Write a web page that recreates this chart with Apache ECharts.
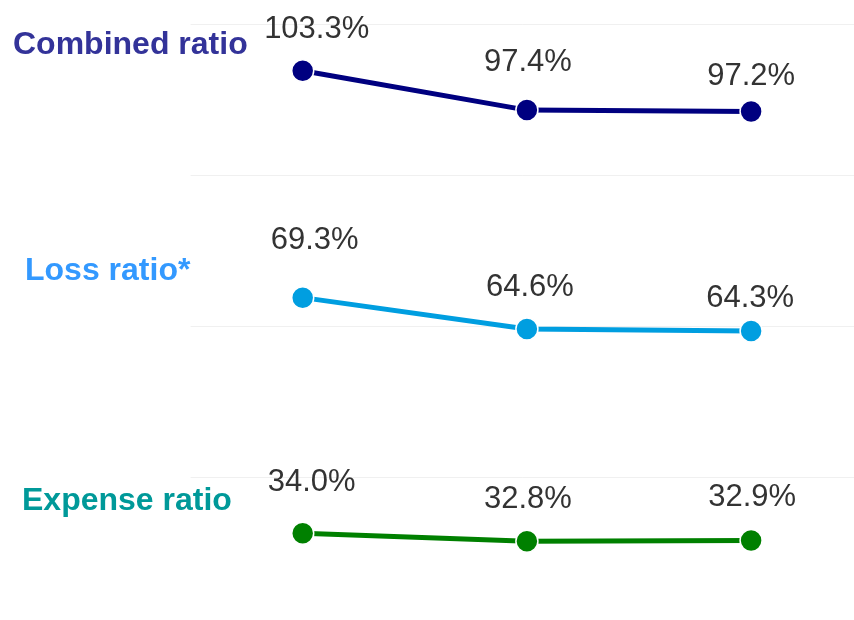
<!DOCTYPE html>
<html>
<head>
<meta charset="utf-8">
<script src="https://cdn.jsdelivr.net/npm/echarts@6/dist/echarts.min.js"></script>
<style>
  html, body { margin: 0; padding: 0; background: #ffffff; }
  #chart { width: 854px; height: 620px; }
</style>
</head>
<body>
<div id="chart"></div>
<script>
// ---- data ----
var periods = ['Period 1', 'Period 2', 'Period 3'];
var seriesNames = ['Combined ratio', 'Loss ratio*', 'Expense ratio'];
var combinedRatio = [103.3, 97.4, 97.2];
var lossRatio = [69.3, 64.6, 64.3];
var expenseRatio = [34.0, 32.8, 32.9];

// ---- layout / style (not data) ----
var lineColors = ['#000080', '#009ee0', '#008000'];
var nameColors = ['#333399', '#3399ff', '#009999'];
var namePos = [[13, 44], [25, 270], [22, 500]];
var labelOffsets = [
  [[14, -41], [1, -48], [0, -35]],
  [[12, -57], [3, -42], [-1, -33]],
  [[9, -51], [1, -42], [1, -43]]
];
var allValues = [combinedRatio, lossRatio, expenseRatio];

var chart = echarts.init(document.getElementById('chart'), null, { renderer: 'canvas' });

var series = allValues.map(function (vals, si) {
  return {
    name: seriesNames[si],
    type: 'line',
    yAxisIndex: 0,
    data: vals.map(function (v, i) {
      return {
        value: v,
        label: { offset: labelOffsets[si][i] }
      };
    }),
    symbol: 'circle',
    symbolSize: 22,
    lineStyle: { color: lineColors[si], width: 5 },
    itemStyle: { color: lineColors[si], borderColor: '#ffffff', borderWidth: 1.5 },
    label: {
      show: true,
      position: 'inside',
      align: 'center',
      verticalAlign: 'middle',
      fontFamily: 'Liberation Sans, Arial, sans-serif',
      fontSize: 31,
      color: '#333333',
      formatter: function (p) { return p.value.toFixed(1) + '%'; }
    },
    emphasis: { disabled: true },
    animation: false,
    z: 3
  };
});

var option = {
  backgroundColor: '#ffffff',
  animation: false,
  grid: {
    left: 190.6, top: 24, width: 672.6, height: 604,
    containLabel: false, outerBoundsMode: 'none'
  },
  xAxis: {
    type: 'category',
    data: periods,
    boundaryGap: true,
    axisLine: { show: false },
    axisTick: { show: false },
    axisLabel: { show: false },
    splitLine: { show: false }
  },
  yAxis: [
    {
      type: 'value',
      min: 19.8,
      max: 110.3,
      axisLine: { show: false },
      axisTick: { show: false },
      axisLabel: { show: false },
      splitLine: { show: false }
    },
    {
      type: 'value',
      min: 0,
      max: 4,
      interval: 1,
      axisLine: { show: false },
      axisTick: { show: false },
      axisLabel: { show: false },
      splitLine: { show: true, lineStyle: { color: '#f0f0f0', width: 1 } }
    }
  ],
  graphic: seriesNames.map(function (n, i) {
    return {
      type: 'text',
      left: namePos[i][0],
      top: namePos[i][1] - 15,
      style: {
        text: n,
        fill: nameColors[i],
        font: 'bold 32px "Liberation Sans", Arial, sans-serif'
      }
    };
  }),
  series: series
};

chart.setOption(option);
</script>
</body>
</html>
